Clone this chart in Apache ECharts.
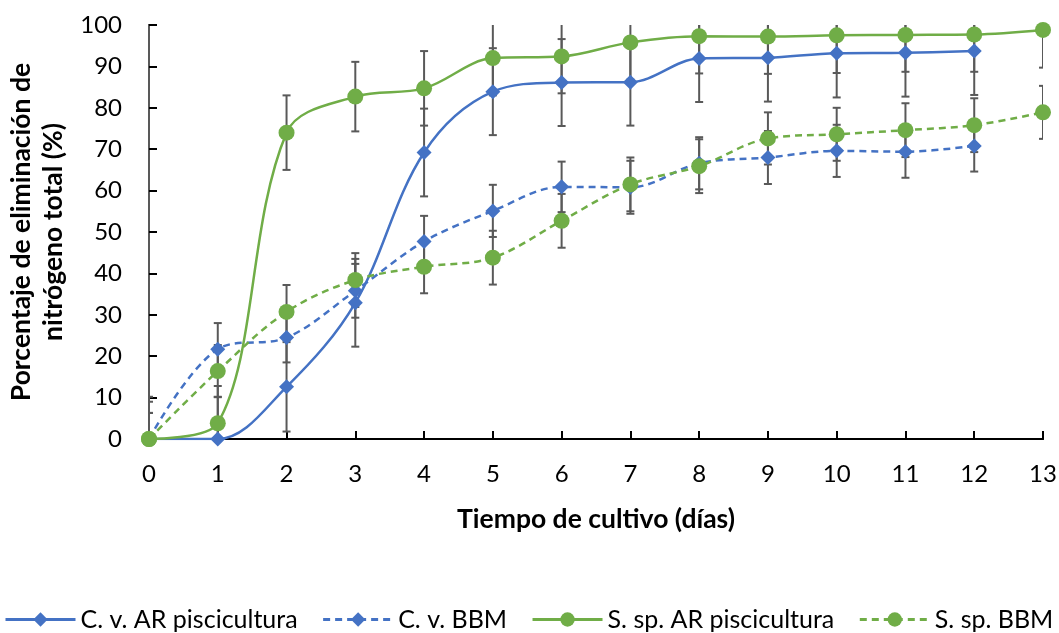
<!DOCTYPE html>
<html><head><meta charset="utf-8">
<script src="https://cdn.jsdelivr.net/npm/echarts@6/dist/echarts.min.js"></script>
<style>html,body{margin:0;padding:0;background:#fff}#c{width:1059px;height:633px}</style>
</head><body><div id="c"></div>
<script>
const days = [0,1,2,3,4,5,6,7,8,9,10,11,12,13];
const seriesNames = ['C. v. AR piscicultura','C. v. BBM','S. sp. AR piscicultura','S. sp. BBM'];
const cvAR     = [0, 0, 12.6, 32.9, 69.2, 83.9, 86.1, 86.2, 91.9, 92.1, 93.2, 93.3, 93.7, null];
const cvARErr  = [10.2, 10.2, 10.8, 10.6, 10.6, 10.5, 10.5, 10.5, 10.5, 10.6, 10.7, 10.6, 10.6, null];
const cvBBM    = [0, 21.7, 24.5, 35.8, 47.7, 55.1, 60.9, 60.8, 66.6, 68.0, 69.6, 69.4, 70.8, null];
const cvBBMErr = [6.3, 6.3, 6.0, 6.5, 6.2, 6.3, 6.1, 6.4, 6.3, 6.4, 6.3, 6.3, 6.2, null];
const ssAR     = [0, 3.8, 74.0, 82.7, 84.7, 92.0, 92.4, 95.8, 97.3, 97.2, 97.5, 97.6, 97.7, 98.8];
const ssARErr  = [9.0, 9.0, 9.0, 8.4, 9.0, 9.0, 8.9, 9.0, 9.0, 9.0, 9.1, 8.9, 9.0, 9.1];
const ssBBM    = [0, 16.4, 30.7, 38.4, 41.6, 43.8, 52.7, 61.5, 65.9, 72.6, 73.6, 74.6, 75.8, 78.9];
const ssBBMErr = [6.3, 6.3, 6.5, 6.5, 6.4, 6.5, 6.5, 6.5, 6.5, 6.3, 6.4, 6.5, 6.5, 6.4];

const BLUE = '#4472C4', GREEN = '#70AD47', EB = '#595959';
const FONT = 'Lato';

function pts(vals){ return days.map((d,i)=>[d, vals[i]]).filter(p=>p[1]!==null); }
function errPts(vals, errs){ return days.map((d,i)=>[d, vals[i], errs[i]]).filter(p=>p[1]!==null); }

function errRender(params, api){
  const x = api.value(0), y = api.value(1), e = api.value(2);
  const top = api.coord([x, y + e]);
  const bot = api.coord([x, y - e]);
  const hw = 4;
  const st = {stroke: EB, lineWidth: 2};
  return {type:'group', children:[
    {type:'line', shape:{x1:top[0], y1:top[1], x2:bot[0], y2:bot[1]}, style:st},
    {type:'line', shape:{x1:top[0]-hw, y1:top[1], x2:top[0]+hw, y2:top[1]}, style:st},
    {type:'line', shape:{x1:bot[0]-hw, y1:bot[1], x2:bot[0]+hw, y2:bot[1]}, style:st}
  ]};
}
function errSeries(vals, errs){
  return {type:'custom', renderItem: errRender, data: errPts(vals, errs), clip: true, z: 1, silent: true,
          encode:{x:0, y:1}};
}
function lineSeries(name, vals, color, dashed, symbol, size){
  return {type:'line', name, data: pts(vals), smooth: 0.35, z: 3,
    symbol, symbolSize: size, showSymbol: true,
    itemStyle:{color},
    lineStyle:{color, width: 2.5, type: dashed ? [7,5] : 'solid'}};
}

const chart = echarts.init(document.getElementById('c'));
chart.setOption({
  animation: false,
  textStyle:{fontFamily: FONT},
  grid:{left:149, right:16, top:25, bottom:194, outerBoundsMode:'none', containLabel:false},
  xAxis:[{type:'value', min:0, max:13, interval:1,
    name:'Tiempo de cultivo (días)', nameLocation:'middle', nameGap:67,
    nameTextStyle:{fontFamily:FONT, fontSize:26.5, fontWeight:'bold', color:'#000'},
    axisLine:{lineStyle:{color:'#000', width:2}},
    axisTick:{inside:true, length:8, lineStyle:{color:'#000', width:2}},
    axisLabel:{margin:23, fontSize:24, color:'#000', fontFamily:FONT},
    splitLine:{show:false}},
   {type:'value', position:'top', min:0, max:13, interval:1,
    axisLine:{show:true, lineStyle:{color:'#000', width:2}}, axisTick:{show:false}, axisLabel:{show:false}, splitLine:{show:false}}],
  yAxis:[{type:'value', min:0, max:100, interval:10,
    name:'Porcentaje de eliminación de\nnitrógeno total (%)', nameLocation:'middle', nameGap:77, nameRotate:90,
    nameTextStyle:{fontFamily:FONT, fontSize:26.5, fontWeight:'bold', color:'#000', lineHeight:32},
    axisLine:{show:true, lineStyle:{color:'#000', width:2}},
    axisTick:{show:true, inside:true, length:8, lineStyle:{color:'#000', width:2}},
    axisLabel:{margin:27, fontSize:24, color:'#000', fontFamily:FONT},
    splitLine:{show:false}},
   {type:'value', position:'right', min:0, max:100, interval:10,
    axisLine:{show:true, lineStyle:{color:EB, width:2}}, axisTick:{show:false}, axisLabel:{show:false}, splitLine:{show:false}}],
  legend:{data: seriesNames, left:4, top:607, padding:0, itemWidth:70, itemHeight:18, itemGap:24,
    lineStyle:{width:3},
    textStyle:{fontFamily:FONT, fontSize:25, color:'#000'}},
  series:[
    errSeries(cvAR, cvARErr), errSeries(cvBBM, cvBBMErr), errSeries(ssAR, ssARErr), errSeries(ssBBM, ssBBMErr),
    lineSeries(seriesNames[0], cvAR, BLUE, false, 'diamond', 15),
    lineSeries(seriesNames[1], cvBBM, BLUE, true, 'diamond', 15),
    lineSeries(seriesNames[2], ssAR, GREEN, false, 'circle', 16),
    lineSeries(seriesNames[3], ssBBM, GREEN, true, 'circle', 16)
  ]
});
</script></body></html>
